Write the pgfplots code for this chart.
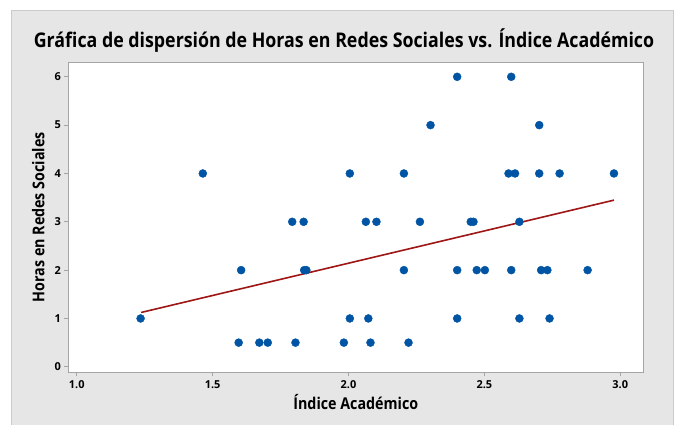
\documentclass[border=0pt]{standalone}
\usepackage{pgfplots}
\pgfplotsset{compat=1.18}
\usepackage{fontspec}
\setmainfont{Open Sans}
\newfontfamily\narrowfont{Open Sans}[FakeStretch=0.88]
\definecolor{bg}{RGB}{230,230,230}
\definecolor{framec}{RGB}{165,165,165}
\definecolor{dotc}{RGB}{0,84,164}
\definecolor{fitc}{RGB}{158,22,22}
\begin{document}
\begin{tikzpicture}[x=1bp,y=1bp]
\useasboundingbox (0,0) rectangle (680,424);
\fill[white] (0,0) rectangle (680,424);
\filldraw[fill=bg,draw=bg!88!black,line width=0.6bp] (11,-2) rectangle (673,414);
\node[font=\narrowfont\bfseries\fontsize{20.3}{24}\selectfont, anchor=base, inner sep=0pt] at (344,376.3) {Gráfica de dispersión de Horas en Redes Sociales vs. Índice Académico};
\begin{axis}[at={(68.3bp,51.7bp)},anchor=south west, scale only axis,
  width=575bp, height=310bp,
  xmin=0.969, xmax=3.085, ymin=-0.114, ymax=6.30,
  xtick={1,1.5,2,2.5,3}, xticklabels={1.0,1.5,2.0,2.5,3.0},
  ytick={0,1,2,3,4,5,6},
  axis background/.style={fill=white},
  axis line style={framec, line width=0.8bp},
  tick style={framec, line width=0.8bp},
  tick align=outside, major tick length=4bp, tick pos=left,
  /pgf/number format/assume math mode=true,
  ticklabel style={font=\bfseries\fontsize{11}{13}\selectfont},
  xticklabel style={yshift=-1bp},
  xlabel={Índice Académico}, ylabel={Horas en Redes Sociales},
  label style={font=\narrowfont\bfseries\fontsize{16.3}{19}\selectfont, inner sep=0pt},
  xlabel style={at={(axis description cs:0.5,-0.1184)}, anchor=base},
  ylabel style={at={(axis description cs:-0.0417,0.5)}, anchor=base},
]
\addplot[only marks, mark=*, mark size=4bp, mark options={draw=dotc, fill=dotc}] coordinates {
(1.235,1) (1.464,4) (1.605,2) (1.596,0.5) (1.672,0.5) (1.703,0.5)
(1.793,3) (1.835,3) (1.805,0.5) (1.837,2) (1.845,2) (1.983,0.5)
(2.005,4) (2.005,1) (2.064,3) (2.073,1) (2.081,0.5) (2.103,3)
(2.204,4) (2.204,2) (2.221,0.5) (2.263,3) (2.302,5) (2.40,6)
(2.40,2) (2.40,1) (2.450,3) (2.460,3) (2.472,2) (2.502,2)
(2.589,4) (2.613,4) (2.599,6) (2.599,2) (2.629,3) (2.629,1)
(2.702,5) (2.702,4) (2.709,2) (2.732,2) (2.740,1) (2.777,4)
(2.880,2) (2.977,4)
};
\addplot[fitc, line width=1.6bp] coordinates {(1.237,1.124) (2.977,3.448)};
\end{axis}
\end{tikzpicture}
\end{document}
